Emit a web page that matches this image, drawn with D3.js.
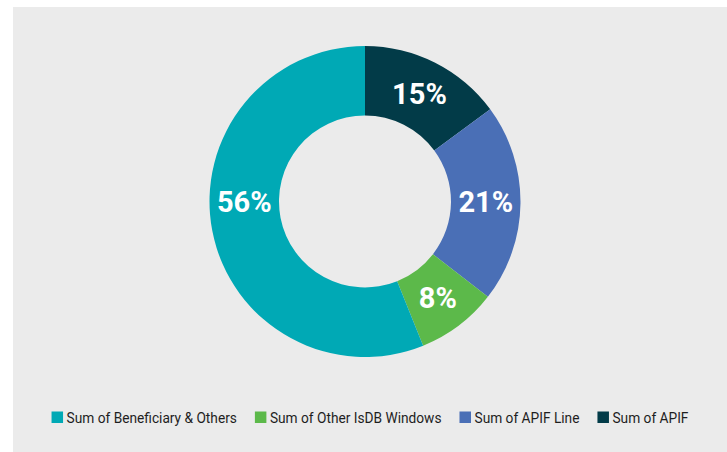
<!DOCTYPE html>
<html>
<head>
<meta charset="utf-8">
<script src="https://cdn.jsdelivr.net/npm/d3@7"></script>
<style>
  html, body { margin: 0; padding: 0; background: #ffffff; }
  svg { display: block; }
</style>
</head>
<body>
<svg id="chart" width="727" height="452"></svg>
<script>
// Data (clockwise from 12 o'clock)
const sliceNames = ["Sum of APIF", "Sum of APIF Line", "Sum of Other IsDB Windows", "Sum of Beneficiary & Others"];
const sliceValues = [14.9, 20.6, 8.4, 56.1];
const sliceLabels = ["15%", "21%", "8%", "56%"];
const sliceColors = ["#023b48", "#4a6fb6", "#5cb94a", "#00a9b5"];
// Legend order
const legendNames = ["Sum of Beneficiary & Others", "Sum of Other IsDB Windows", "Sum of APIF Line", "Sum of APIF"];

const svg = d3.select("#chart");
const W = 727, H = 452;

// panel background
svg.append("rect").attr("x", 13).attr("y", 7).attr("width", W - 13).attr("height", H - 7).attr("fill", "#ebebeb");

const cx = 365, cy = 201.5, R = 155.5, r = 86;
const g = svg.append("g").attr("transform", `translate(${cx},${cy})`);

const pie = d3.pie().sort(null).value(d => d.value);
const data = sliceNames.map((n, i) => ({ name: n, value: sliceValues[i], label: sliceLabels[i], color: sliceColors[i] }));
const arcs = pie(data);
const arc = d3.arc().innerRadius(r).outerRadius(R);

g.selectAll("path.slice").data(arcs).enter().append("path")
  .attr("class", "slice")
  .attr("d", arc)
  .attr("fill", d => d.data.color);

// label: at mid-angle, or at the horizontal point if the slice spans it
const midR = (r + R) / 2;
function labelAngle(d) {
  const candidates = [Math.PI / 2, 3 * Math.PI / 2];
  for (const a of candidates) if (a > d.startAngle && a < d.endAngle) return a;
  return (d.startAngle + d.endAngle) / 2;
}
g.selectAll("text.lbl").data(arcs).enter().append("text")
  .attr("class", "lbl")
  .attr("x", d => midR * Math.sin(labelAngle(d)))
  .attr("y", d => -midR * Math.cos(labelAngle(d)))
  .attr("dy", "0.36em")
  .attr("text-anchor", "middle")
  .attr("font-family", "Roboto, 'Noto Sans', sans-serif")
  .attr("font-weight", 700)
  .attr("font-size", 29)
  .attr("fill", "#ffffff")
  .text(d => d.data.label);

// legend
const colorOf = d3.scaleOrdinal().domain(sliceNames).range(sliceColors);
const squareSize = 11.5, textGap = 3.5, itemGap = 18, squeeze = 0.885;
const legend = svg.append("g");
let x = 0;
legendNames.forEach(n => {
  const item = legend.append("g").attr("transform", `translate(${x},0)`);
  item.append("rect").attr("x", 0).attr("y", -11.5).attr("width", squareSize).attr("height", squareSize).attr("fill", colorOf(n));
  const t = item.append("text")
    .attr("font-family", "Roboto, 'Noto Sans', sans-serif")
    .attr("font-size", 15.5)
    .attr("fill", "#1e1e1e")
    .attr("transform", `translate(${squareSize + textGap},0) scale(${squeeze},1)`)
    .text(n);
  const w = t.node().getComputedTextLength() * squeeze;
  x += squareSize + textGap + w + itemGap;
});
const totalW = x - itemGap;
const panelCenter = 13 + (W - 13) / 2;
legend.attr("transform", `translate(${panelCenter - totalW / 2},423)`);
</script>
</body>
</html>
